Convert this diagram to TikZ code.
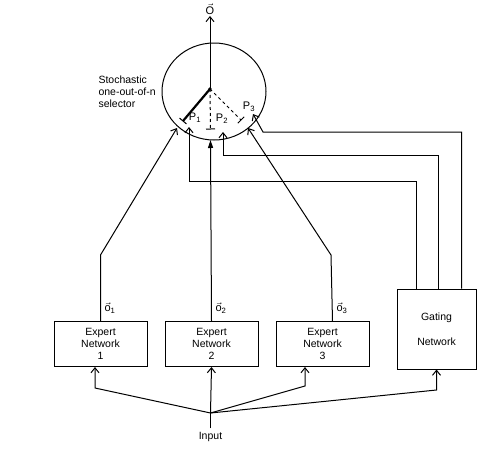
\documentclass[tikz,border=0pt]{standalone}
\usepackage{fontspec}
\setsansfont{Liberation Sans}
\usetikzlibrary{shapes,arrows.meta,calc,positioning}
\tikzset{every picture/.style={/utils/exec={\sffamily\fontsize{10.5}{12}\selectfont}}}
\tikzset{
	node distance =17pt and 17pt,
}

\begin{document}
\begin{tikzpicture}[
	x=1pt, y=-1pt, line width=1pt,
	arr/.style={-{Straight Barb[length=5pt,width=8pt]}},
	arrf/.style={-{Triangle[length=8pt,width=5pt]}},
	box/.style={draw, minimum width=93pt, minimum height=45pt, align=center, inner sep=1pt},
	gatebox/.style={draw, minimum width=79pt, minimum height=80pt, align=center},
	tick/.style={line width=1pt},
	lbl/.style={inner sep=1pt, font=\fontsize{11}{12}\selectfont},
	]
	\useasboundingbox (0,0) rectangle (487,450);

	%selector
	\node[draw, ellipse, minimum width=104pt, minimum height=97pt] (sel) at (214,91.5) {};
	\coordinate (hub) at (210,89);
	\node[align=left, anchor=west, inner sep=0pt] (sname) at (98,92) {Stochastic\\one-out-of-n\\selector};
	\node[lbl] (out) at (210,9) {$\vec{\mbox{O}}$};
	\draw[arr] (hub) -- (out.south);
	\fill (hub) circle (1.8pt);

	%experts
	\node[box] (e1) at (100.5,344) {Expert\\Network\\1};
	\node[box, right = of e1] (e2) {Expert\\Network\\2};
	\node[box, right = of e2] (e3) {Expert\\Network\\3};
	\node[gatebox] (gate) at (436.5,329) {Gating\\[13pt]Network};
	\node (input) at (210.5,437) {Input};

	%points on selector
	\coordinate (k1) at (183,121);
	\coordinate (k2) at (210.5,129);
	\coordinate (k3) at (241,120);
	\coordinate (t1) at (177,128);
	\coordinate (t2) at (210.5,140);
	\coordinate (t3) at (248,128);
	\coordinate (g1) at (189,127);
	\coordinate (g2) at (223,132);
	\coordinate (g3) at (253,114);
	\node[lbl] (p1) at (195,118) {P\textsubscript{1}};
	\node[lbl] (p2) at (222,119) {P\textsubscript{2}};
	\node[lbl] (p3) at (249,107) {P\textsubscript{3}};

	%switch
	\draw[line width=2.2pt] (hub) -- (k1);
	\draw[dashed] (hub) -- (k2);
	\draw[dashed] (hub) -- (k3);
	\draw[tick] ($(k1)!4.5pt!90:(hub)$) -- ($(k1)!4.5pt!-90:(hub)$);
	\draw[tick] ($(k2)!4.5pt!90:(hub)$) -- ($(k2)!4.5pt!-90:(hub)$);
	\draw[tick] ($(k3)!4.5pt!90:(hub)$) -- ($(k3)!4.5pt!-90:(hub)$);

	%expert outputs
	\coordinate (b1) at (100.5,255);
	\coordinate (b3) at (331,255);
	\draw[arr] (e1.north) -- (b1) -- (t1);
	\draw[arrf] (e2.north) -- (t2);
	\draw[arr] ([xshift=10pt]e3.north) -- (b3) -- (t3);
	\node[lbl, anchor=west] (o1) at (103,308) {$\vec{\mbox{o}}$\textsubscript{1}};
	\node[lbl, anchor=west] (o2) at (214,308) {$\vec{\mbox{o}}$\textsubscript{2}};
	\node[lbl, anchor=west] (o3) at (335,308) {$\vec{\mbox{o}}$\textsubscript{3}};

	%gating outputs
	\coordinate (c1) at (189,181);
	\coordinate (c2) at (223,155);
	\coordinate (c3) at (263,132);
	\draw[arr] ([xshift=20pt]gate.north west) |- (c1) -- (g1);
	\draw[arr] ([xshift=42pt]gate.north west) |- (c2) -- (g2);
	\draw[arr] ([xshift=65pt]gate.north west) |- (c3) -- (g3);

	%input
	\coordinate (fan) at (210.5,413);
	\coordinate (f1) at (95,388);
	\coordinate (f3) at (305,386);
	\coordinate (fg) at (436.5,390);
	\draw (input) -- (fan);
	\draw[arr] (fan) -- (f1) -- (f1 |- e1.south);
	\draw[arr] (fan) -- (e2.south);
	\draw[arr] (fan) -- (f3) -- (f3 |- e3.south);
	\draw[arr] (fan) -- (fg) -- (gate.south);

\end{tikzpicture}
\end{document}
